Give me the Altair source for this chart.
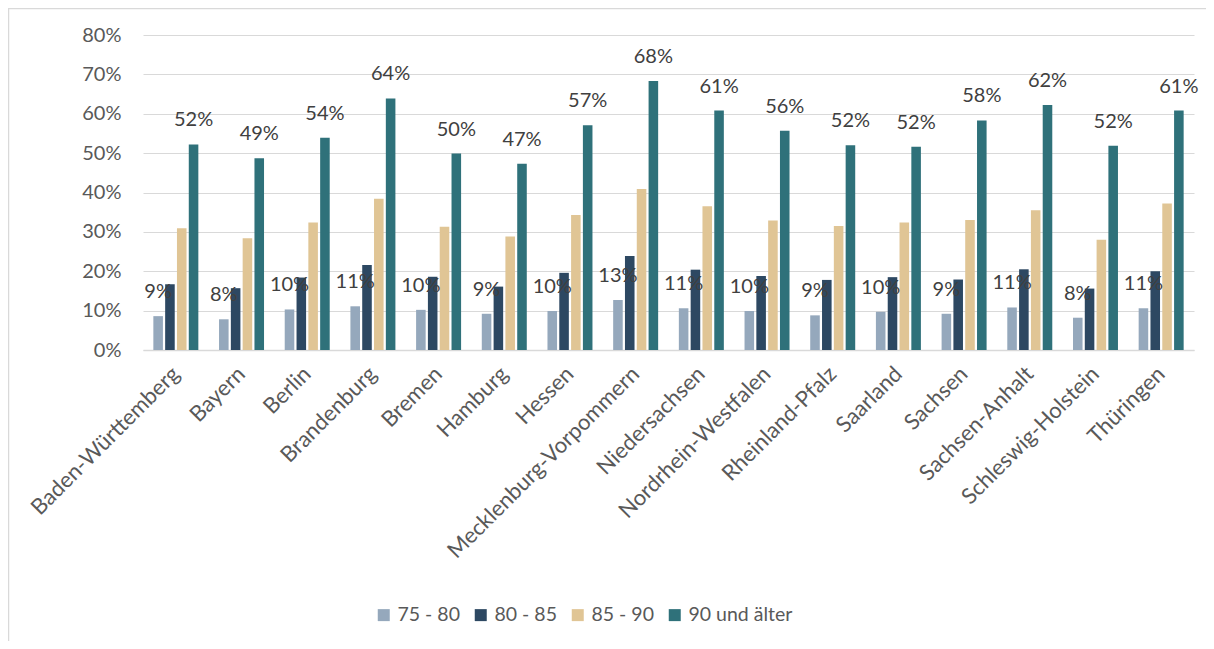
import altair as alt
import pandas as pd

states = ["Baden-Württemberg", "Bayern", "Berlin", "Brandenburg", "Bremen", "Hamburg",
          "Hessen", "Mecklenburg-Vorpommern", "Niedersachsen", "Nordrhein-Westfalen",
          "Rheinland-Pfalz", "Saarland", "Sachsen", "Sachsen-Anhalt",
          "Schleswig-Holstein", "Thüringen"]
groups = ["75 - 80", "80 - 85", "85 - 90", "90 und älter"]

v75 = [8.6, 7.8, 10.3, 11.1, 10.2, 9.2, 9.9, 12.7, 10.6, 9.9, 8.8, 9.7, 9.2, 10.8, 8.2, 10.6]
v80 = [16.7, 15.7, 18.4, 21.6, 18.6, 16.1, 19.6, 23.9, 20.4, 18.8, 17.8, 18.5, 17.9, 20.5, 15.6, 20.0]
v85 = [30.9, 28.4, 32.4, 38.4, 31.3, 28.8, 34.3, 40.9, 36.5, 32.9, 31.5, 32.4, 33.0, 35.5, 28.0, 37.2]
v90 = [52.2, 48.7, 53.9, 63.9, 49.9, 47.3, 57.1, 68.3, 60.8, 55.7, 52.0, 51.6, 58.3, 62.2, 51.9, 60.8]

colors = ["#95a8bc", "#2d4862", "#e0c595", "#2f717a"]
y_ticks = [0, 0.1, 0.2, 0.3, 0.4, 0.5, 0.6, 0.7, 0.8]

rows = []
for g, vals in zip(groups, [v75, v80, v85, v90]):
    for s, v in zip(states, vals):
        rows.append({"Land": s, "Gruppe": g, "Wert": v / 100})
df = pd.DataFrame(rows)

FONT = "Lato"

y_axis = alt.Axis(title=None, format=".0%", values=y_ticks, domain=False,
                  ticks=False, labelFont=FONT, labelFontSize=20,
                  labelColor="#595959", labelPadding=22,
                  gridColor="#d9d9d9", gridWidth=1.2)
y_scale = alt.Scale(domain=[0, 0.8])

base = alt.Chart(df).encode(
    x=alt.X("Land:N", sort=states,
            scale=alt.Scale(paddingInner=0.315, paddingOuter=0.1575),
            axis=alt.Axis(title=None, labelAngle=-45, labelAlign="right",
                          labelBaseline="middle", labelFont=FONT, labelFontSize=22,
                          labelColor="#595959", labelPadding=20, ticks=False,
                          domainColor="#d9d9d9", domainWidth=1.5,
                          labelOverlap=False, labelLimit=0)),
    xOffset=alt.XOffset("Gruppe:N", sort=groups,
                        scale=alt.Scale(domain=groups, paddingInner=0.19)),
    y=alt.Y("Wert:Q", scale=y_scale, axis=y_axis),
)

bars = base.mark_bar().encode(
    color=alt.Color("Gruppe:N", sort=groups,
                    scale=alt.Scale(domain=groups, range=colors),
                    legend=alt.Legend(title=None, orient="none", legendX=231,
                                      legendY=570, direction="horizontal",
                                      symbolType="square", symbolSize=144,
                                      symbolStrokeWidth=0, labelFont=FONT,
                                      labelFontSize=19.5, labelColor="#595959",
                                      labelOffset=4, columnPadding=11)),
)

labels = base.transform_filter(
    alt.FieldOneOfPredicate(field="Gruppe", oneOf=["75 - 80", "90 und älter"])
).mark_text(baseline="alphabetic", dy=-18, font=FONT, fontSize=20,
            color="#404040").encode(
    text=alt.Text("Wert:Q", format=".0%"),
)

frame_df = pd.DataFrame({"a": [0]})
frame_left = alt.Chart(frame_df).mark_rule(color="#d9d9d9", strokeWidth=1.5).encode(
    x=alt.value(-134.5), y=alt.value(-27), y2=alt.value(700))
frame_top = alt.Chart(frame_df).mark_rule(color="#d9d9d9", strokeWidth=1.5).encode(
    y=alt.value(-26.5), x=alt.value(-135), x2=alt.value(1200))

chart = alt.layer(bars, labels, frame_left, frame_top).properties(
    width=1051, height=315,
    autosize=alt.AutoSizeParams(type="none"),
    padding={"left": 135, "top": 27, "right": 12, "bottom": 291},
).configure(background="white", view=alt.ViewConfig(stroke=None))

chart.save("out.html", embed_options={"renderer": "svg", "actions": False})
